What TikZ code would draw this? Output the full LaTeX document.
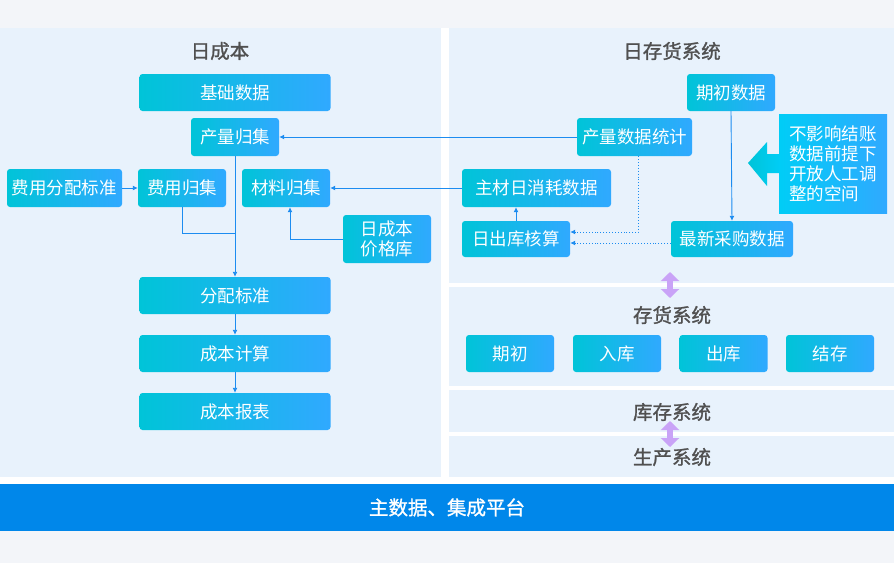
\documentclass[tikz,border=0pt]{standalone}
\usepackage{fontspec}
\setmainfont{Noto Sans CJK SC}
\newfontfamily\midfont{Noto Sans CJK SC}[FakeBold=1.2]
\usetikzlibrary{arrows.meta}
\definecolor{pagegray}{HTML}{F3F5F9}
\definecolor{panelblue}{HTML}{E8F2FC}
\definecolor{boxL}{HTML}{00C4D8}
\definecolor{boxM}{HTML}{00CDF6}
\definecolor{boxR}{HTML}{30A9FF}
\definecolor{linkblue}{HTML}{1C8CF0}
\definecolor{titlegray}{HTML}{505050}
\definecolor{lilac}{HTML}{C9A3F7}
\definecolor{barblue}{HTML}{0087EA}
\tikzset{
  box/.style={rounded corners=3pt, left color=boxL, middle color=boxM, right color=boxR,
    text=white, inner sep=0pt, minimum width=88pt, minimum height=37pt,
    font=\fontsize{17.5}{20}\selectfont},
  title/.style={text=titlegray, font=\fontsize{19.5}{22}\midfont},
  link/.style={linkblue, line width=.9pt},
  dotlink/.style={linkblue, line width=.9pt, dotted},
  dbl/.style={lilac, line width=6pt, {Triangle[width=18pt,length=9pt]}-{Triangle[width=18pt,length=9pt]}}
}
\begin{document}
\begin{tikzpicture}[x=1pt, y=-1pt, >={Latex[length=5pt,width=5pt]}]
  \useasboundingbox (0,0) rectangle (894,563);
  \fill[pagegray] (0,0) rectangle (894,563);
  \fill[white] (0,28) rectangle (894,484);
  \fill[panelblue] (0,28) rectangle (441,477);
  \fill[panelblue] (449,28) rectangle (894,283);
  \fill[panelblue] (449,287) rectangle (894,386);
  \fill[panelblue] (449,390) rectangle (894,432);
  \fill[panelblue] (449,436) rectangle (894,477);

  % left side
  \node (rcb) at (220,51) [title] {日成本};
  \node (jcsj) at (235,92.5) [box, minimum width=191pt] {基础数据};
  \node (clgj) at (235,137) [box, minimum height=38pt] {产量归集};
  \node (fyfp) at (64.5,188) [box, minimum width=115pt, minimum height=38pt] {费用分配标准};
  \node (fygj) at (182,188) [box, minimum height=38pt] {费用归集};
  \node (clgj2) at (286,188) [box, minimum height=38pt] {材料归集};
  \node (jgk) at (387,239) [box, minimum height=48pt, align=center] {日成本\\价格库};
  \node (fpbz) at (235,295.5) [box, minimum width=191pt] {分配标准};
  \node (cbjs) at (235,353.5) [box, minimum width=191pt] {成本计算};
  \node (cbbb) at (235,411.5) [box, minimum width=191pt] {成本报表};
  \coordinate (hb) at (235,233);

  % right side
  \node (rch) at (672,51) [title] {日存货系统};
  \node (qcsj) at (731,92.5) [box] {期初数据};
  \node (cltj) at (634.5,137) [box, minimum width=115pt, minimum height=38pt] {产量数据统计};
  \node (zcxh) at (536.5,188) [box, minimum width=149pt, minimum height=38pt] {主材日消耗数据};
  \node (ckhs) at (516,239) [box, minimum width=108pt, minimum height=36pt] {日出库核算};
  \node (zxcg) at (732,239) [box, minimum width=122pt, minimum height=36pt] {最新采购数据};
  \node (tip) at (833,163.5) [left color=boxM, right color=boxR, text=white, inner sep=0pt,
    minimum width=108pt, minimum height=99pt, align=left,
    font=\fontsize{17.5}{20}\selectfont] {不影响结账\\数据前提下\\开放人工调\\整的空间};
  \shade[left color=boxL, right color=boxM] (748,163) -- (767,142) -- (767,154) -- (780,154)
    -- (780,173) -- (767,173) -- (767,186) -- cycle;

  \node (chxt) at (672,315) [title] {存货系统};
  \node (qc) at (510,353.5) [box] {期初}; \node (rk) at (617,353.5) [box] {入库};
  \node (ck) at (723.5,353.5) [box] {出库}; \node (jc) at (830,353.5) [box] {结存};
  \node (kcxt) at (672,412) [title] {库存系统};
  \node (scxt) at (672,457) [title] {生产系统};
  \coordinate (s1) at (670,272); \coordinate (s2) at (670,298);
  \coordinate (s3) at (670,421); \coordinate (s4) at (670,447);

  \node (ptf) at (447,507.5) [fill=barblue, minimum width=894pt, minimum height=47pt,
    text=white, font=\fontsize{19.5}{22}\midfont] {主数据、集成平台};

  % connectors
  \draw[link,->] (clgj.south) -- (fpbz.north);
  \draw[link] (fygj.south) |- (hb);
  \draw[link,->] (fyfp.east) -- (fygj.west);
  \draw[link,->] (jgk.west) -| ([xshift=4pt]clgj2.south);
  \draw[link,->] (fpbz.south) -- (cbjs.north);
  \draw[link,->] (cbjs.south) -- (cbbb.north);
  \draw[link,->] (cltj.west) -- (clgj.east);
  \draw[link,->] (zcxh.west) -- (clgj2.east);
  \draw[link,->] (ckhs.north) -- (ckhs.north |- zcxh.south);
  \draw[dotlink,->] ([xshift=4pt]cltj.south) |- ([yshift=7pt]ckhs.east);
  \draw[dotlink,->] ([yshift=-4pt]zxcg.west) -- ([yshift=-4pt]ckhs.east);
  \draw[link,->] (qcsj.south) -- (zxcg.north);
  \draw[dbl] (s1) -- (s2);
  \draw[dbl] (s3) -- (s4);
\end{tikzpicture}
\end{document}
